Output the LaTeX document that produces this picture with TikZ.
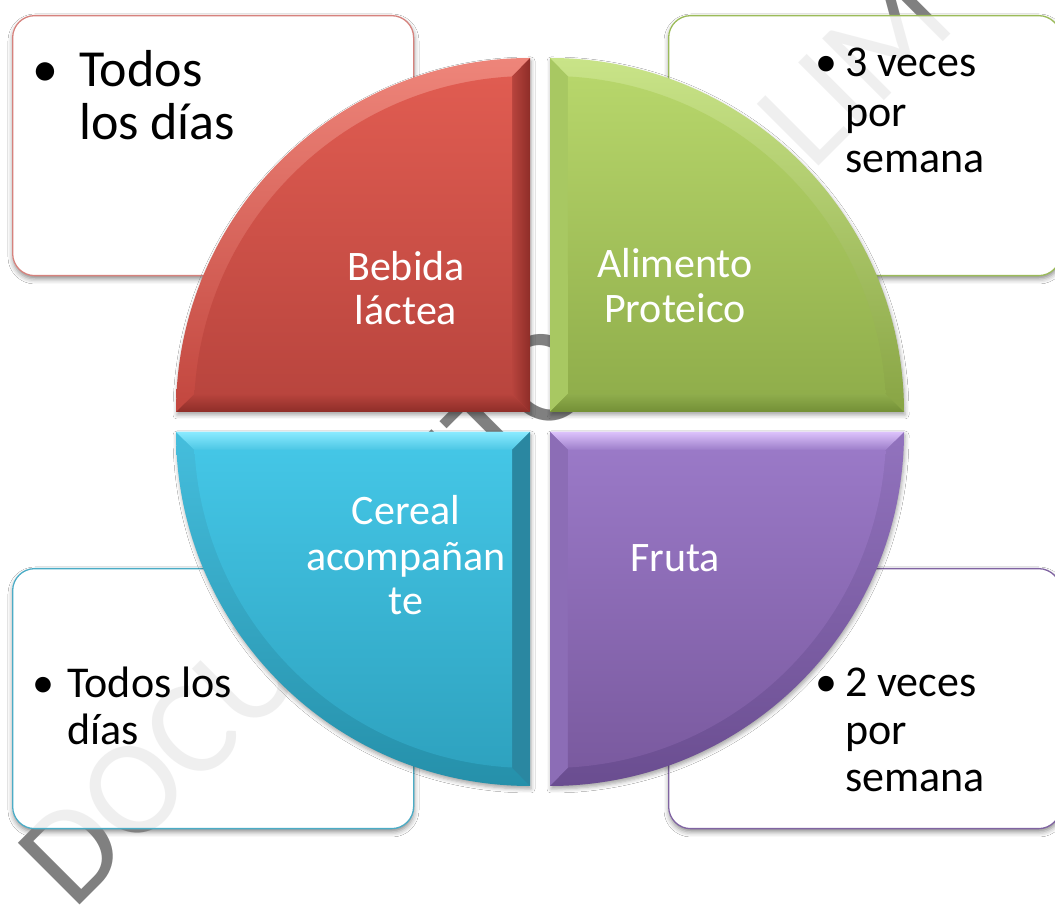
\documentclass[tikz,border=0pt]{standalone}
\usepackage{fontspec}
\setmainfont{Carlito}
\usetikzlibrary{calc,shadows.blur}
\definecolor{wmgray}{HTML}{808080}
\definecolor{bordR}{HTML}{D6827D}
\definecolor{bordG}{HTML}{9BBB59}
\definecolor{bordB}{HTML}{4BACC6}
\definecolor{bordP}{HTML}{8064A2}
% red
\definecolor{rArcT}{HTML}{EE857A}
\definecolor{rArcB}{HTML}{C2463E}
\definecolor{rInT}{HTML}{E05C51}
\definecolor{rInB}{HTML}{B9453E}
\definecolor{rSideA}{HTML}{B8443D}
\definecolor{rSideB}{HTML}{8E2D28}
% green
\definecolor{gArcT}{HTML}{C9E488}
\definecolor{gArcB}{HTML}{88A444}
\definecolor{gInT}{HTML}{B7D66B}
\definecolor{gInB}{HTML}{90AE4B}
\definecolor{gLeft}{HTML}{A8C862}
\definecolor{gBotA}{HTML}{8FAD4C}
\definecolor{gBotB}{HTML}{738F36}
% blue
\definecolor{bArcT}{HTML}{45BEDD}
\definecolor{bArcB}{HTML}{2590AA}
\definecolor{bInT}{HTML}{44C6E6}
\definecolor{bInB}{HTML}{2EA2BF}
\definecolor{bTopA}{HTML}{8AEAFF}
\definecolor{bTopB}{HTML}{4BC6E4}
\definecolor{bRight}{HTML}{2A87A1}
% purple
\definecolor{pArcT}{HTML}{9273BE}
\definecolor{pArcB}{HTML}{6A4D90}
\definecolor{pInT}{HTML}{9A79C7}
\definecolor{pInB}{HTML}{7A5A9F}
\definecolor{pTopA}{HTML}{DCC2FB}
\definecolor{pTopB}{HTML}{9C7DC9}
\definecolor{pLeft}{HTML}{8C6DB6}
\begin{document}
\begin{tikzpicture}[x=1pt,y=1pt,
  box/.style={draw=#1, line width=1.3pt, rounded corners=22pt, fill=white,
    fill opacity=0.88, draw opacity=1, inner sep=0pt, anchor=north west,
    minimum width=401pt, minimum height=260pt},
  boxsh/.style={rounded corners=22pt, blur shadow={shadow xshift=1pt, shadow yshift=-4pt, shadow blur radius=5pt, shadow opacity=45}},
  boxbase/.style={rounded corners=22pt, fill=white},
  qshadow/.style={blur shadow={shadow xshift=1pt, shadow yshift=-3pt, shadow blur radius=4pt, shadow opacity=35}},
  btxt/.style={inner sep=0pt, anchor=base west, text=black},
  small/.style={font=\fontsize{44}{47}\selectfont},
  big/.style={font=\fontsize{52}{53}\selectfont},
  qlab/.style={inner sep=0pt, anchor=base, font=\fontsize{42}{45}\selectfont, text=white},
  wm/.style={inner sep=0pt, anchor=base west, rotate=45, text=wmgray, font=\fontsize{136}{136}\selectfont},
]
\fill[white] (0,0) rectangle (1055,907);
\useasboundingbox (0,0) rectangle (1055,907);

% box shadows and opaque bases
\path[boxsh] (12,632) rectangle (413,892);
\path[boxsh] (668,632) rectangle (1060,892);
\path[boxsh] (12,79) rectangle (413,339);
\path[boxsh] (668,79) rectangle (1060,339);
\fill[boxbase] (12,632) rectangle (413,892);
\fill[boxbase] (668,632) rectangle (1060,892);
\fill[boxbase] (12,79) rectangle (413,339);
\fill[boxbase] (668,79) rectangle (1060,339);

% watermark
\node[wm] (wm1) at (73,-5) {DOCUMENTO};
\node[wm] (wm2) at (812,734) {LIM};

% boxes
\node[box=bordR] (boxTL) at (12,892) {};
\node[box=bordG, minimum width=392pt] (boxTR) at (668,892) {};
\node[box=bordB] (boxBL) at (12,339) {};
\node[box=bordP, minimum width=392pt] (boxBR) at (668,339) {};

% box texts
\node[btxt,big] (tlb) at (32,820) {•};
\node[btxt,big] (tl1) at (79,820) {Todos};
\node[btxt,big] (tl2) at (79,767) {los días};

\node[btxt,small] (trb) at (815,830) {•};
\node[btxt,small] (tr1) at (845,830) {3 veces};
\node[btxt,small] (tr2) at (845,780) {por};
\node[btxt,small] (tr3) at (845,734) {semana};

\node[btxt,small] (blb) at (32,209) {•};
\node[btxt,small] (bl1) at (67,209) {Todos los};
\node[btxt,small] (bl2) at (67,162) {días};

\node[btxt,small] (brb) at (815,210) {•};
\node[btxt,small] (br1) at (845,210) {2 veces};
\node[btxt,small] (br2) at (845,162) {por};
\node[btxt,small] (br3) at (845,115) {semana};

% quadrant centres
\coordinate (cR) at (530,495);
\coordinate (cG) at (550,495);
\coordinate (cB) at (530,475);
\coordinate (cP) at (550,475);

% red quadrant
\path[qshadow, top color=rArcT, bottom color=rArcB] (cR) -- ++(-354,0) arc[start angle=180, end angle=90, radius=354] -- cycle;
\shade[top color=rSideA, bottom color=rSideB] (cR) -- ++(-354,0) -- ++(18.5,18) -- ($(cR)+(-18,18)$) -- cycle;
\shade[left color=rSideA, right color=rSideB] (cR) -- ++(0,354) -- ++(-18,-18.5) -- ($(cR)+(-18,18)$) -- cycle;
\shade[top color=rInT, bottom color=rInB] ($(cR)+(-18,18)$) -- ($(cR)+(-335.5,18)$) arc[start angle=176.93, end angle=93.07, radius=336] -- cycle;

% green quadrant
\path[qshadow, top color=gArcT, bottom color=gArcB] (cG) -- ++(0,354) arc[start angle=90, end angle=0, radius=354] -- cycle;
\fill[gLeft] (cG) -- ++(0,354) -- ++(18,-18.5) -- ($(cG)+(18,18)$) -- cycle;
\shade[top color=gBotA, bottom color=gBotB] (cG) -- ++(354,0) -- ++(-18.5,18) -- ($(cG)+(18,18)$) -- cycle;
\shade[top color=gInT, bottom color=gInB] ($(cG)+(18,18)$) -- ($(cG)+(335.5,18)$) arc[start angle=3.07, end angle=86.93, radius=336] -- cycle;

% blue quadrant
\path[qshadow, top color=bArcT, bottom color=bArcB] (cB) -- ++(-354,0) arc[start angle=180, end angle=270, radius=354] -- cycle;
\shade[top color=bTopA, bottom color=bTopB] (cB) -- ++(-354,0) -- ++(18.5,-18) -- ($(cB)+(-18,-18)$) -- cycle;
\fill[bRight] (cB) -- ++(0,-354) -- ++(-18,18.5) -- ($(cB)+(-18,-18)$) -- cycle;
\shade[top color=bInT, bottom color=bInB] ($(cB)+(-18,-18)$) -- ($(cB)+(-335.5,-18)$) arc[start angle=183.07, end angle=266.93, radius=336] -- cycle;

% purple quadrant
\path[qshadow, top color=pArcT, bottom color=pArcB] (cP) -- ++(354,0) arc[start angle=0, end angle=-90, radius=354] -- cycle;
\shade[top color=pTopA, bottom color=pTopB] (cP) -- ++(354,0) -- ++(-18.5,-18) -- ($(cP)+(18,-18)$) -- cycle;
\fill[pLeft] (cP) -- ++(0,-354) -- ++(18,18.5) -- ($(cP)+(18,-18)$) -- cycle;
\shade[top color=pInT, bottom color=pInB] ($(cP)+(18,-18)$) -- ($(cP)+(335.5,-18)$) arc[start angle=-3.07, end angle=-86.93, radius=336] -- cycle;

% quadrant labels
\node[qlab] (lR1) at (406,626) {Bebida};
\node[qlab] (lR2) at (406,582) {láctea};
\node[qlab] (lG1) at (675,629) {Alimento};
\node[qlab] (lG2) at (675,584) {Proteico};
\node[qlab] (lB1) at (406,382) {Cereal};
\node[qlab] (lB2) at (406,336) {acompañan};
\node[qlab] (lB3) at (406,292) {te};
\node[qlab] (lP1) at (675,335) {Fruta};
\end{tikzpicture}
\end{document}
